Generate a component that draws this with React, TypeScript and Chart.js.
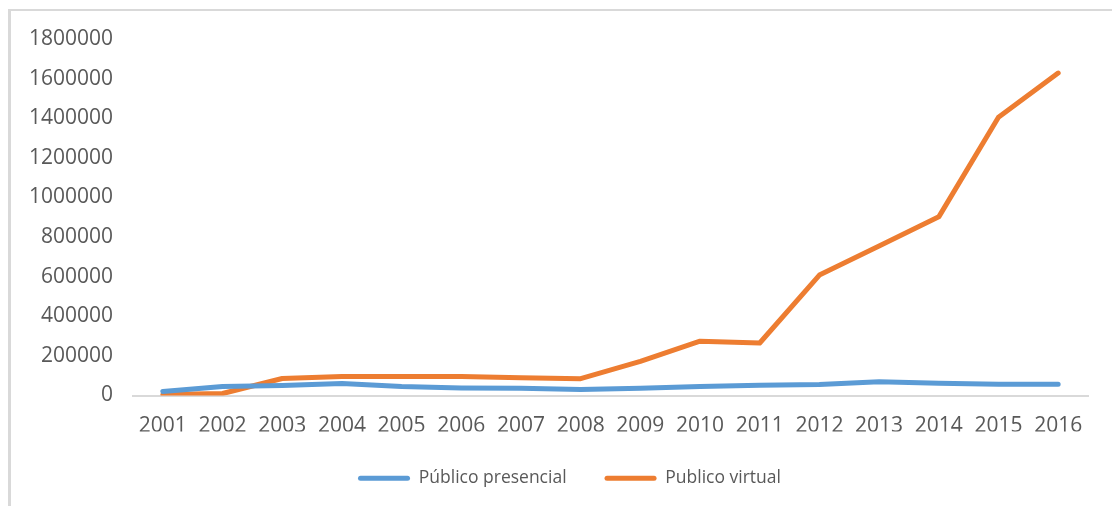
import React, { useEffect, useRef } from "react";
import { Chart, registerables } from "chart.js";

Chart.register(...registerables);

const years = ["2001","2002","2003","2004","2005","2006","2007","2008","2009","2010","2011","2012","2013","2014","2015","2016"];
const presencial = [20000, 45000, 50000, 60000, 45000, 38000, 36000, 30000, 36000, 45000, 52000, 55000, 70000, 62000, 57000, 57000];
const virtual = [5000, 10000, 86000, 96000, 96000, 96000, 90000, 85000, 172000, 274000, 265000, 608000, 755000, 902000, 1405000, 1628000];
const seriesNames = ["Público presencial", "Publico virtual"];
const colors = ["#5B9BD5", "#ED7D31"];
const yMax = 1800000;
const yStep = 200000;

const shiftLegend = {
  id: "shiftLegend",
  afterLayout(chart: any) {
    const lg = chart.legend;
    if (lg) {
      lg.left += 20;
      lg.right += 20;
    }
  },
};

export default function App() {
  const ref = useRef<HTMLCanvasElement>(null);
  useEffect(() => {
    document.body.style.overflow = "hidden";
    const chart = new Chart(ref.current!, {
      type: "line",
      data: {
        labels: years,
        datasets: [
          { label: seriesNames[0], data: presencial, borderColor: colors[0], backgroundColor: colors[0], borderWidth: 5, pointRadius: 0, tension: 0, borderJoinStyle: "round", borderCapStyle: "round" },
          { label: seriesNames[1], data: virtual, borderColor: colors[1], backgroundColor: colors[1], borderWidth: 5, pointRadius: 0, tension: 0, borderJoinStyle: "round", borderCapStyle: "round" },
        ],
      },
      plugins: [shiftLegend],
      options: {
        animation: false,
        responsive: false,
        layout: { padding: { top: 28, right: 24, bottom: 9, left: 0 } },
        plugins: {
          tooltip: { enabled: false },
          legend: {
            position: "bottom",
            labels: {
              color: "#595959",
              font: { family: "'Open Sans'", size: 17.5 },
              boxWidth: 52,
              boxHeight: 5,
              padding: 38,
              generateLabels: (c: any) => {
                const items = Chart.defaults.plugins.legend.labels.generateLabels(c);
                return items.map((it: any) => ({ ...it, lineWidth: 0, fillStyle: colors[it.datasetIndex], borderRadius: 2.5 }));
              },
            },
          },
        },
        scales: {
          x: {
            offset: true,
            grid: { display: false, drawTicks: false },
            border: { display: true, color: "#d9d9d9", width: 2 },
            ticks: { color: "#595959", font: { family: "'Open Sans'", size: 21 }, padding: 18, maxRotation: 0, autoSkip: false },
            afterFit: (s: any) => { s.height = 36; },
          },
          y: {
            min: 0,
            max: yMax,
            grid: { display: false, drawTicks: false },
            border: { display: false },
            ticks: { stepSize: yStep, color: "#595959", font: { family: "'Open Sans'", size: 21 }, padding: 20, callback: (v: any) => String(v) },
            afterFit: (s: any) => { s.width = 122; s.paddingTop = 0; s.paddingBottom = 0; },
          },
        },
      },
    });
    return () => chart.destroy();
  }, []);
  return (
    <div style={{ position: "fixed", left: 8, top: 9, width: 1104, height: 497, borderLeft: "3px solid #d9d9d9", borderTop: "2px solid #d9d9d9", boxSizing: "border-box", background: "#fff" }}>
      <canvas ref={ref} width={1101} height={495} style={{ display: "block" }} />
    </div>
  );
}
